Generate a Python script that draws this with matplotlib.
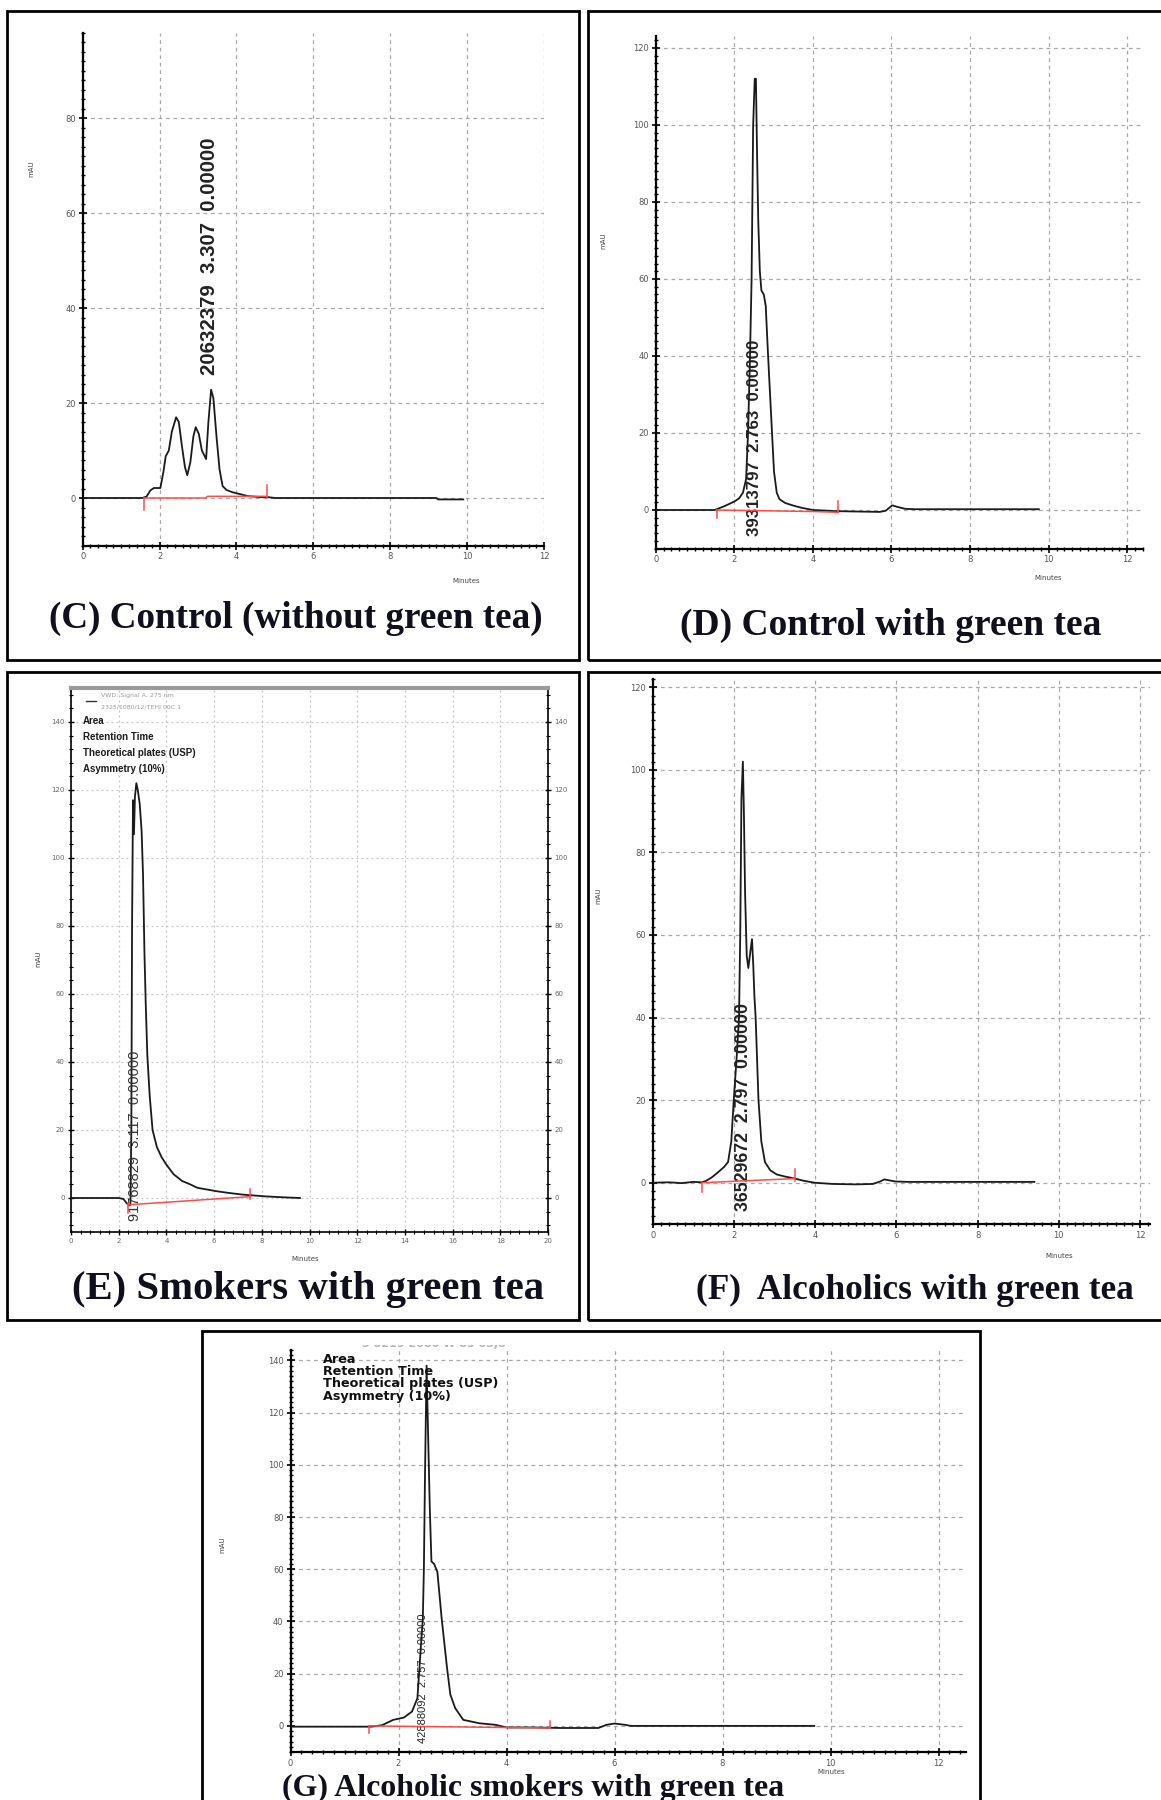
import matplotlib
matplotlib.use("Agg")
import matplotlib.pyplot as plt
from matplotlib.patches import Rectangle
from matplotlib.ticker import MultipleLocator
from matplotlib.transforms import Bbox, TransformedBbox

W, H = 1161, 1800

# (C) control without green tea
c_time = [0, 1.55, 1.66, 1.76, 1.85, 2.02, 2.1, 2.16, 2.24, 2.32, 2.43, 2.5, 2.58, 2.66, 2.72,
          2.8, 2.88, 2.94, 3.02, 3.1, 3.21, 3.27, 3.34, 3.4, 3.48, 3.56, 3.64, 3.74, 3.9, 4.1,
          4.3, 4.6, 4.8, 5.0, 9.2, 9.25, 9.9]
c_mau = [0, 0, 0.3, 1.6, 2.1, 2.1, 5.5, 8.8, 10, 14, 17, 16, 11, 6.5, 4.8,
         7.5, 13, 14.9, 13.5, 10, 8.2, 16, 22.8, 21, 13, 6, 2.5, 1.7, 1.2, 0.8,
         0.4, 0.2, 0.2, 0, 0, -0.3, -0.3]
c_base_t = [1.6, 3.2, 3.25, 4.8]
c_base_y = [0, 0, 0.35, 0.35]
c_events = [(1.6, -2.5, 0), (4.8, 0, 2.8)]
c_label = "20632379  3.307  0.00000"

# (D) control with green tea
d_time = [0, 1.5, 1.75, 2.0, 2.12, 2.22, 2.3, 2.35, 2.4, 2.44, 2.48, 2.52, 2.55, 2.58, 2.61,
          2.65, 2.69, 2.75, 2.8, 2.86, 2.96, 3.01, 3.08, 3.15, 3.3, 3.45, 3.7, 4.0, 4.6, 5.7,
          5.85, 6.02, 6.15, 6.35, 6.6, 9.75]
d_mau = [0, 0, 1.0, 2.2, 3.0, 4.5, 8, 20, 40, 60, 100, 112, 112, 92, 75,
         62, 57, 56, 53, 40, 20, 10, 4.5, 2.8, 1.8, 1.3, 0.6, 0, -0.3, -0.5,
         -0.2, 1.2, 0.8, 0.3, 0.2, 0.2]
d_base_t = [1.55, 4.0, 4.65]
d_base_y = [0, -0.4, -0.6]
d_events = [(1.55, -2.2, 0), (4.65, -0.6, 2.3)]
d_label = "39313797  2.763  0.00000"

# (E) smokers with green tea
e_time = [0, 2.0, 2.2, 2.32, 2.42, 2.49, 2.53, 2.56, 2.6, 2.64, 2.68, 2.74, 2.8, 2.88, 2.96,
          3.02, 3.08, 3.13, 3.2, 3.3, 3.42, 3.6, 3.8, 3.98, 4.3, 4.66, 5.0, 5.3, 5.7, 6.1,
          6.6, 7.2, 8.1, 8.9, 9.6]
e_mau = [0, 0, -0.3, -1.4, -2.2, -2.0, 20, 80, 117, 107, 118, 122, 120, 116, 108,
         95, 72, 58, 42, 30, 20, 15, 12, 10, 7, 5, 4, 3, 2.5, 2,
         1.5, 1, 0.5, 0.2, 0]
e_base_t = [2.4, 7.5]
e_base_y = [-2.0, 0.4]
e_events = [(2.4, -4.5, -1.5), (7.5, -0.3, 2.6)]
e_label = "91768829  3.117  0.00000"
e_params = ["Area", "Retention Time", "Theoretical plates (USP)", "Asymmetry (10%)"]

# (F) alcoholics with green tea
f_time = [0, 0.4, 0.7, 1.0, 1.2, 1.3, 1.45, 1.6, 1.75, 1.85, 1.93, 1.99, 2.06, 2.12, 2.15,
          2.18, 2.215, 2.24, 2.27, 2.31, 2.35, 2.4, 2.44, 2.47, 2.5, 2.53, 2.6, 2.67, 2.76, 2.89,
          3.05, 3.25, 3.5, 3.7, 3.98, 4.43, 5.0, 5.42, 5.6, 5.7, 5.97, 6.3, 9.4]
f_mau = [0, 0.1, -0.1, 0.2, 0.1, 0.4, 1.3, 2.5, 3.8, 5, 10, 20, 30, 40, 60,
         93, 102, 90, 70, 55, 52, 56, 59, 53, 45, 40, 20, 10, 5, 3,
         2, 1.5, 1.0, 0.5, 0, -0.3, -0.4, -0.3, 0.3, 0.8, 0.3, 0.2, 0.2]
f_base_t = [1.2, 3.5]
f_base_y = [0, 1.0]
f_events = [(1.2, -2.2, 0), (3.5, 0.5, 3.3)]
f_label = "36529672  2.797  0.00000"

# (G) alcoholic smokers with green tea
g_time = [0, 1.5, 1.6, 1.7, 1.9, 2.1, 2.25, 2.35, 2.4, 2.45, 2.47, 2.49, 2.52, 2.55, 2.58,
          2.61, 2.66, 2.72, 2.8, 2.9, 2.96, 3.05, 3.2, 3.5, 3.8, 4.0, 4.5, 5.0, 5.7, 5.85,
          6.0, 6.2, 6.3, 9.7]
g_mau = [-0.3, -0.3, 0, 0.3, 2.3, 3.2, 5.5, 10.6, 26, 41, 60, 95, 138, 110, 83,
         63, 62, 59, 41, 22, 12, 6.8, 2.3, 1.0, 0.4, -0.6, -0.6, -0.8, -0.8, 0.4,
         0.9, 0.4, 0, 0]
g_base_t = [1.45, 4.8]
g_base_y = [0, -0.8]
g_events = [(1.45, -2.8, 0), (4.8, -0.8, 1.7)]
g_label = "42888092  2.757  0.00000"

captions = ["(C) Control (without green tea)", "(D) Control with green tea",
            "(E) Smokers with green tea", "(F)  Alcoholics with green tea",
            "(G) Alcoholic smokers with green tea"]

fig = plt.figure(figsize=(W / 100, H / 100), dpi=100)
fig.patch.set_facecolor("white")


def px_axes(left, top, right, bottom):
    return fig.add_axes([left / W, 1 - bottom / H, (right - left) / W, (bottom - top) / H])


def frame(left, top, right, bottom):
    fig.patches.append(Rectangle((left / W, 1 - bottom / H), (right - left) / W,
                                 (bottom - top) / H, transform=fig.transFigure,
                                 fill=False, lw=2, ec="black"))


def ftext(x, y, s, **kw):
    return fig.text(x / W, 1 - y / H, s, **kw)


def chrom_axes(ax, xlim, ylim, ymaj, ymin, xmin=0.2):
    ax.set_xlim(*xlim)
    ax.set_ylim(*ylim)
    ax.xaxis.set_major_locator(MultipleLocator(2))
    ax.xaxis.set_minor_locator(MultipleLocator(xmin))
    ax.yaxis.set_major_locator(MultipleLocator(ymaj))
    ax.yaxis.set_minor_locator(MultipleLocator(ymin))
    for side in ["top", "right"]:
        ax.spines[side].set_visible(False)
    for side in ["left", "bottom"]:
        ax.spines[side].set_linewidth(1.6)
    ax.grid(True, which="major", color="#a8a8a8", linestyle=(0, (3, 3)), lw=0.9)
    ax.tick_params(which="major", direction="inout", length=6, width=1.2,
                   labelsize=6, labelcolor="#555555", pad=2)
    ax.tick_params(which="minor", direction="inout", length=3.5, width=1.0)
    ax.set_facecolor("none")


def trace(ax, t, y, base_t, base_y, events):
    ax.plot(t, y, color="#1a1a1a", lw=1.3, zorder=3)
    ax.plot(base_t, base_y, color="#ff4a4a", lw=1.1, zorder=4)
    for x, y0, y1 in events:
        ax.plot([x, x], [y0, y1], color="#ff4a4a", lw=1.1, zorder=4)


peak_texts = []

# ---- C ----
frame(7, 11, 579, 660)
ax_c = px_axes(82.7, 32.5, 544, 545.5)
chrom_axes(ax_c, (0, 12), (-10, 98), 20, 2)
trace(ax_c, c_time, c_mau, c_base_t, c_base_y, c_events)
t = ax_c.text(3.307, 25.8, c_label, rotation=90, ha="center", va="bottom",
              family="Liberation Sans", weight="bold", fontsize=14, color="#222222")
peak_texts.append((t, 238))

# ---- D ----
frame(588, 11, 1170, 660)
ax_d = px_axes(655.7, 36.4, 1143, 548.5)
chrom_axes(ax_d, (0, 12.4), (-10, 123), 20, 2)
trace(ax_d, d_time, d_mau, d_base_t, d_base_y, d_events)
t = ax_d.text(2.51, -6.8, d_label, rotation=90, ha="center", va="bottom",
              family="Liberation Sans", weight="bold", fontsize=12, color="#222222")
peak_texts.append((t, 194))

# ---- E ----
frame(7, 672, 579, 1320)
ax_e = px_axes(71, 688, 548, 1232)
ax_e.set_xlim(0, 20)
ax_e.set_ylim(-10, 150)
ax_e.xaxis.set_major_locator(MultipleLocator(2))
ax_e.xaxis.set_minor_locator(MultipleLocator(0.4))
ax_e.yaxis.set_major_locator(MultipleLocator(20))
ax_e.yaxis.set_minor_locator(MultipleLocator(4))
for side in ["left", "bottom", "right"]:
    ax_e.spines[side].set_linewidth(1.2)
ax_e.spines["top"].set_linewidth(3)
ax_e.spines["top"].set_color("#9a9a9a")
ax_e.grid(True, which="major", color="#c4c4c4", linestyle=(0, (1.5, 2.5)), lw=0.9)
ax_e.tick_params(which="major", direction="inout", length=5, width=1.0, labelsize=5,
                 labelcolor="#666666", pad=2, right=True, labelright=True)
ax_e.tick_params(which="minor", direction="inout", length=3, width=0.8, right=True)
trace(ax_e, e_time, e_mau, e_base_t, e_base_y, e_events)
t = ax_e.text(2.7, -6.7, e_label, rotation=90, ha="center", va="bottom",
              family="Liberation Sans", fontsize=10, color="#333333")
peak_texts.append((t, 170))
ax_e.plot([0.62, 1.05], [146.2, 146.2], color="#333333", lw=1)
ftext(101, 696, "VWD: Signal A, 275 nm", fontsize=4.5, color="#9a9a9a", va="center")
ftext(101, 707, "2325/1080/12/TEHI 00C 1", fontsize=4.5, color="#9a9a9a", va="center")
e_param_texts = []
for i, s in enumerate(e_params):
    e_param_texts.append(ftext(83, 721 + 15.9 * i, s, fontsize=7, weight="bold",
                               family="Liberation Sans", color="#1a1a1a", va="center"))

# ---- F ----
frame(588, 672, 1170, 1320)
ax_f = px_axes(653, 679, 1150, 1224)
chrom_axes(ax_f, (0, 12.25), (-10, 122), 20, 2)
trace(ax_f, f_time, f_mau, f_base_t, f_base_y, f_events)
t = ax_f.text(2.22, -6.9, f_label, rotation=90, ha="center", va="bottom",
              family="Liberation Sans", weight="bold", fontsize=12.5, color="#222222")
peak_texts.append((t, 208))

# ---- G ----
frame(202, 1331, 980, 1815)
ax_g = px_axes(290.5, 1350, 965.5, 1752)
chrom_axes(ax_g, (0, 12.5), (-10, 144), 20, 2)
trace(ax_g, g_time, g_mau, g_base_t, g_base_y, g_events)
t = ax_g.text(2.46, -6.6, g_label, rotation=90, ha="center", va="bottom",
              family="Liberation Sans", fontsize=8, color="#222222")
peak_texts.append((t, 130))
for i, s in enumerate(e_params):
    ftext(323, 1359.5 + 12.2 * i, s, fontsize=9.2, weight="bold",
          family="DejaVu Sans", color="#111111", va="center", zorder=5)
hdr = ftext(362, 1344, "3 8219 2080 W 83 03,8", fontsize=8, weight="bold",
            color="#b4b4b4", va="center")
hdr.set_clip_box(TransformedBbox(Bbox([[0, 0], [1, 1 - 1345 / H]]), fig.transFigure))

# axis names
for x, y in [(31, 169), (603, 241), (38, 959), (598, 896), (222, 1545)]:
    ftext(x, y, "mAU", rotation=90, fontsize=5, color="#444444", ha="center", va="center")
for x, y in [(466, 581), (1048, 578), (305, 1259), (1059, 1256), (831, 1772)]:
    ftext(x, y, "Minutes", fontsize=5, color="#444444", ha="center", va="center")

# panel captions
cap_spec = [(296, 618, 495), (891, 625, 422), (308, 1290, 473), (915, 1290, 437), (533, 1788, 502)]
cap_texts = []
for s, (cx, cy, w) in zip(captions, cap_spec):
    cap_texts.append((ftext(cx, cy, s, family="Liberation Serif", weight="bold", fontsize=24,
                            color="#10101c", ha="center", va="center"), w))

# size text to its printed extent
fig.canvas.draw()
r = fig.canvas.get_renderer()
for txt, w in cap_texts:
    bb = txt.get_window_extent(r)
    txt.set_fontsize(txt.get_fontsize() * w / bb.width)
for txt, h in peak_texts:
    bb = txt.get_window_extent(r)
    txt.set_fontsize(txt.get_fontsize() * h / bb.height)
bb = e_param_texts[2].get_window_extent(r)
k = 113 / bb.width
for txt in e_param_texts:
    txt.set_fontsize(txt.get_fontsize() * k)

fig.savefig("out.png", dpi=100)
